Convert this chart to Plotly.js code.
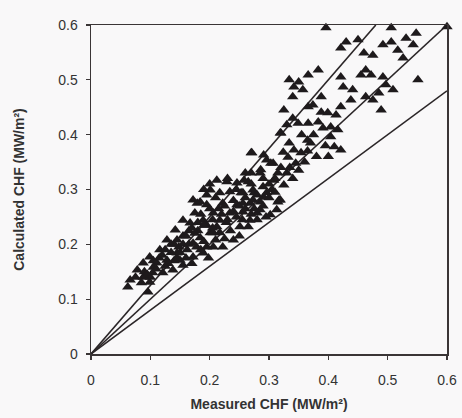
<!DOCTYPE html>
<html>
<head>
<meta charset="utf-8">
<script src="https://cdn.plot.ly/plotly-3.0.1.min.js"></script>
<style>
  html, body { margin: 0; padding: 0; background: #f9f8f9; }
  #chart { width: 462px; height: 418px; }
</style>
</head>
<body>
<div id="chart"></div>
<script>
// Measured vs calculated CHF (MW/m²)
const measured = [
  0.396,0.506,0.600,0.548,0.531,0.543,0.506,0.492,0.517,0.526,0.450,0.430,0.421,0.460,0.475,
  0.383,0.366,0.334,0.350,0.342,0.357,0.340,0.421,0.425,0.463,0.455,0.472,0.492,0.497,0.509,
  0.551,0.441,0.438,0.463,0.475,0.485,0.489,0.421,0.388,0.374,0.366,0.388,0.399,0.413,0.325,
  0.340,0.349,0.366,0.383,0.391,0.404,0.416,0.404,0.410,0.421,0.320,0.334,0.342,0.354,0.332,
  0.345,0.270,0.291,0.303,0.286,0.315,0.308,0.325,0.317,0.258,0.253,0.275,0.291,
  0.319,0.330,0.271,0.296,0.285,0.307,0.324,0.212,0.229,0.246,0.265,0.201,0.217,0.234,0.256,
  0.273,0.290,0.172,0.184,0.195,0.222,0.246,0.268,0.285,0.319,0.313,0.206,0.234,0.256,0.280,
  0.302,
  0.195,0.179,0.175,0.155,0.142,0.167,0.189,0.128,0.145,0.116,0.099,0.088,0.078,0.066,0.111,
  0.128,0.145,0.162,0.172,0.184,0.201,0.212,0.104,0.121,0.138,0.155,0.150,0.172,0.189,0.206,
  0.088,0.099,
  0.315,0.240,0.222,0.206,0.251,0.268,0.285,0.217,0.256,0.273,0.296,0.195,0.217,
  0.062,0.096,0.075,0.085,0.100,
  0.105,0.115,0.125,0.135,0.140,0.148,0.155,0.160,0.165,0.170,0.178,0.180,0.185,0.190,0.195,
  0.198,0.205,0.210,0.215,0.225,0.228,0.235,0.240,0.245,0.250,0.255,0.260,0.265,0.270,0.275,
  0.280,0.290,0.295,0.300,0.305,0.310,0.330,0.335,0.340,0.350,0.360,0.365,0.370,0.375,0.380,
  0.395,0.400,0.355,0.365,
  0.090,0.095,0.105,0.110,0.120,0.125,0.130,0.135,0.140,0.145,0.150,0.155,0.160,0.165,0.170,
  0.175,0.180,0.185,0.190,0.200,0.205,0.210,0.220,0.225,0.230,0.240,0.245,0.250,0.260,0.270,
  0.280,0.290,0.300,0.310,0.320,0.200,0.190,0.230,0.260,0.270
];
const calculated = [
  0.595,0.595,0.597,0.585,0.576,0.564,0.569,0.564,0.554,0.540,0.573,0.569,0.558,0.549,0.545,
  0.518,0.509,0.500,0.496,0.487,0.482,0.469,0.505,0.487,0.518,0.509,0.509,0.505,0.491,0.482,
  0.500,0.482,0.463,0.469,0.463,0.476,0.445,0.451,0.469,0.454,0.451,0.441,0.440,0.436,0.445,
  0.430,0.421,0.421,0.423,0.412,0.414,0.409,0.396,0.378,0.372,0.403,0.385,0.372,0.367,0.359,
  0.348,0.367,0.363,0.348,0.336,0.330,0.317,0.308,0.281,0.317,0.294,0.294,0.286,
  0.403,0.418,0.367,0.354,0.330,0.348,0.368,0.317,0.314,0.312,0.314,0.299,0.294,0.296,0.294,
  0.299,0.305,0.281,0.277,0.272,0.275,0.272,0.275,0.277,0.281,0.263,0.257,0.257,0.259,0.257,
  0.254,
  0.290,0.275,0.257,0.244,0.226,0.239,0.244,0.208,0.208,0.190,0.177,0.166,0.153,0.135,0.166,
  0.171,0.184,0.190,0.202,0.212,0.221,0.232,0.148,0.148,0.153,0.162,0.171,0.177,0.184,0.195,
  0.140,0.131,
  0.277,0.208,0.195,0.221,0.232,0.244,0.263,0.244,0.275,0.281,0.294,0.195,0.221,
  0.122,0.113,0.140,0.130,0.140,
  0.158,0.175,0.160,0.185,0.170,0.195,0.215,0.175,0.225,0.165,0.195,0.225,0.190,0.205,0.235,
  0.175,0.245,0.208,0.265,0.210,0.240,0.225,0.280,0.250,0.215,0.245,0.285,0.232,0.255,0.265,
  0.245,0.270,0.250,0.285,0.300,0.320,0.330,0.340,0.320,0.335,0.350,0.370,0.385,0.400,0.360,
  0.380,0.360,0.400,0.390,
  0.150,0.145,0.170,0.155,0.180,0.190,0.165,0.200,0.200,0.175,0.185,0.200,0.215,0.200,0.230,
  0.220,0.240,0.255,0.235,0.265,0.230,0.285,0.255,0.270,0.245,0.260,0.300,0.270,0.265,0.310,
  0.290,0.320,0.310,0.295,0.340,0.310,0.300,0.320,0.330,0.330
];

// Reference lines: calculated = ratio × measured
const refRatios = [1.25, 1.0, 0.8];
const refX = [0, 0.6];

const traces = [];
refRatios.forEach(r => {
  const xEnd = Math.min(refX[1], refX[1] / r);
  traces.push({
    x: [refX[0], xEnd], y: [refX[0] * r, xEnd * r],
    mode: 'lines', type: 'scatter', hoverinfo: 'skip',
    line: { color: '#2b2628', width: 1.6 },
    showlegend: false, cliponaxis: false
  });
});
traces.push({
  x: measured, y: calculated, mode: 'markers', type: 'scatter',
  marker: { symbol: 'triangle-up', size: 10, color: '#1e1a1c' },
  showlegend: false, cliponaxis: false
});

const tickFont = { family: 'Arial, "Liberation Sans", sans-serif', size: 14, color: '#333' };
const titleFont = { family: 'Arial, "Liberation Sans", sans-serif', size: 14, color: '#333', weight: 'bold' };

const layout = {
  width: 462, height: 418,
  margin: { l: 91, r: 15, t: 25, b: 64 },
  paper_bgcolor: '#f9f8f9', plot_bgcolor: '#f9f8f9',
  showlegend: false,
  xaxis: {
    range: [0, 0.6], tickvals: [0, 0.1, 0.2, 0.3, 0.4, 0.5, 0.6],
    ticktext: ['0', '0.1', '0.2', '0.3', '0.4', '0.5', '0.6'],
    showgrid: false, zeroline: false, showline: true, mirror: true,
    linecolor: '#3a3536', linewidth: 1.5,
    ticks: 'outside', ticklen: 4, tickcolor: '#3a3536', tickwidth: 1.2,
    ticklabelstandoff: 9,
    tickfont: tickFont,
    title: { text: 'Measured CHF (MW/m²)', font: titleFont, standoff: 12 }
  },
  yaxis: {
    range: [0, 0.6], tickvals: [0, 0.1, 0.2, 0.3, 0.4, 0.5, 0.6],
    ticktext: ['0', '0.1', '0.2', '0.3', '0.4', '0.5', '0.6'],
    showgrid: false, zeroline: false, showline: true, mirror: true,
    linecolor: '#3a3536', linewidth: 1.5,
    ticks: 'outside', ticklen: 4, tickcolor: '#3a3536', tickwidth: 1.2,
    ticklabelstandoff: 5,
    tickfont: tickFont,
    title: { text: 'Calculated CHF (MW/m²)', font: titleFont, standoff: 30 }
  }
};

Plotly.newPlot('chart', traces, layout, { displayModeBar: false, staticPlot: true });
</script>
</body>
</html>
